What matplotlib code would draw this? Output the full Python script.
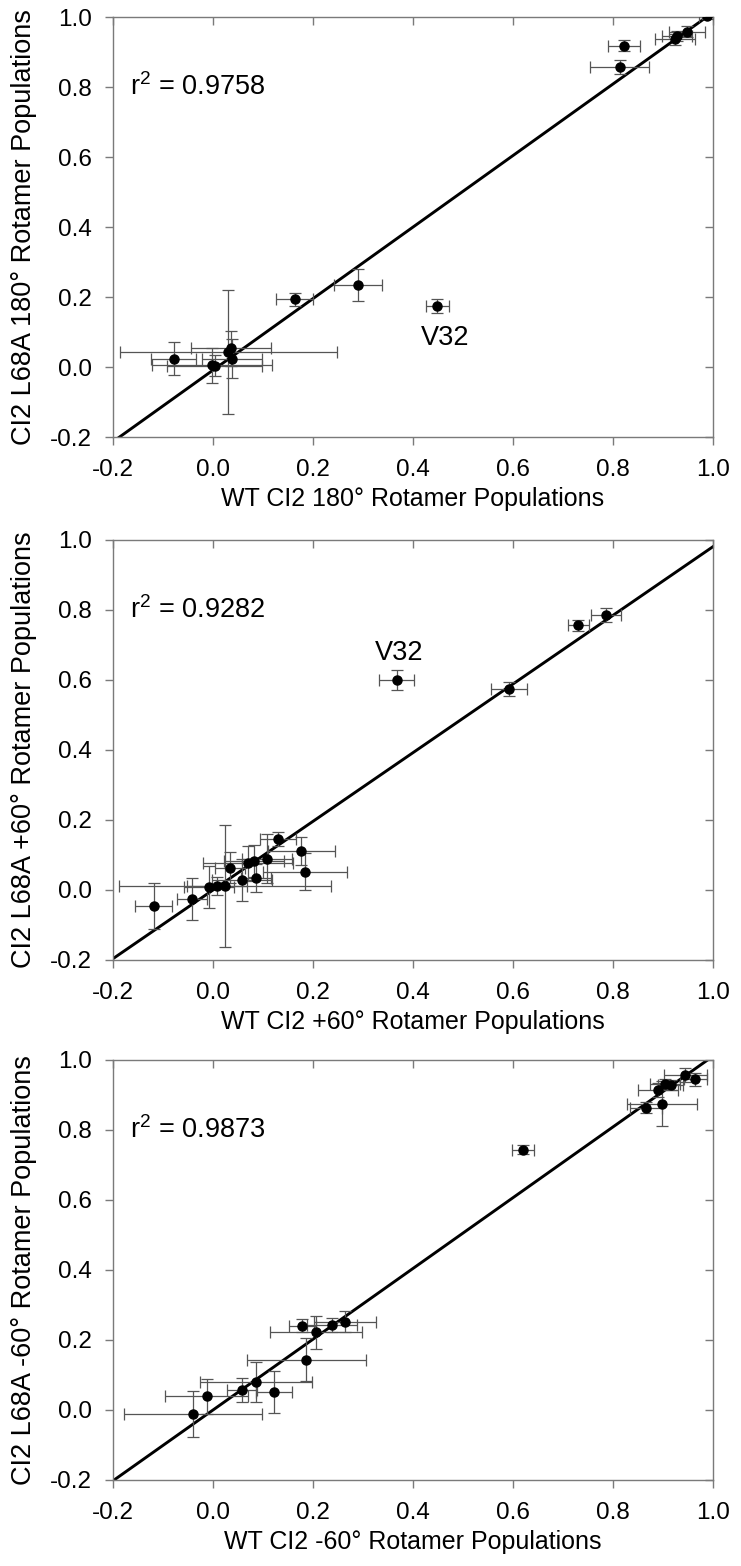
import matplotlib
matplotlib.use("Agg")
import matplotlib.pyplot as plt
import numpy as np

plt.rcParams['font.family'] = ['Liberation Sans', 'DejaVu Sans']
plt.rcParams['axes.unicode_minus'] = False

# ---------------- Panel 1: 180 deg rotamer ----------------
p1_x    = [-0.079, -0.002, 0.003, 0.030, 0.036, 0.038, 0.163, 0.290, 0.448, 0.813, 0.821, 0.923, 0.927, 0.947, 0.987]
p1_y    = [0.024, 0.005, 0.003, 0.043, 0.054, 0.024, 0.193, 0.234, 0.173, 0.858, 0.918, 0.936, 0.946, 0.958, 1.003]
p1_xerr = [0.045, 0.120, 0.095, 0.217, 0.080, 0.060, 0.037, 0.048, 0.023, 0.059, 0.032, 0.040, 0.030, 0.036, 0.015]
p1_yerr = [0.047, 0.050, 0.030, 0.176, 0.050, 0.055, 0.019, 0.045, 0.020, 0.020, 0.015, 0.015, 0.015, 0.015, 0.008]
p1_fit  = (1.022, -0.009)
p1_r2   = "0.9758"

# ---------------- Panel 2: +60 deg rotamer ----------------
p2_x    = [-0.119, -0.043, -0.008, 0.007, 0.023, 0.034, 0.057, 0.070, 0.081, 0.085, 0.107, 0.129, 0.176, 0.183, 0.367, 0.592, 0.730, 0.786]
p2_y    = [-0.045, -0.026, 0.010, 0.011, 0.012, 0.064, 0.030, 0.076, 0.083, 0.033, 0.089, 0.145, 0.111, 0.052, 0.600, 0.575, 0.756, 0.786]
p2_xerr = [0.037, 0.030, 0.050, 0.060, 0.212, 0.030, 0.060, 0.090, 0.060, 0.030, 0.050, 0.036, 0.067, 0.084, 0.035, 0.036, 0.021, 0.030]
p2_yerr = [0.065, 0.060, 0.060, 0.025, 0.175, 0.045, 0.060, 0.050, 0.045, 0.040, 0.070, 0.020, 0.040, 0.053, 0.028, 0.020, 0.015, 0.020]
p2_fit  = (0.981, 0.000)
p2_r2   = "0.9282"

# ---------------- Panel 3: -60 deg rotamer ----------------
p3_x    = [-0.040, -0.013, 0.057, 0.085, 0.122, 0.186, 0.178, 0.206, 0.237, 0.263, 0.620, 0.866, 0.889, 0.897, 0.903, 0.915, 0.944, 0.964]
p3_y    = [-0.011, 0.040, 0.057, 0.081, 0.052, 0.144, 0.241, 0.222, 0.243, 0.252, 0.744, 0.864, 0.915, 0.875, 0.931, 0.929, 0.956, 0.945]
p3_xerr = [0.138, 0.083, 0.030, 0.112, 0.036, 0.119, 0.027, 0.092, 0.050, 0.062, 0.022, 0.032, 0.040, 0.070, 0.030, 0.025, 0.043, 0.023]
p3_yerr = [0.066, 0.050, 0.035, 0.057, 0.060, 0.061, 0.019, 0.047, 0.020, 0.030, 0.012, 0.015, 0.020, 0.064, 0.015, 0.015, 0.020, 0.018]
p3_fit  = (1.011, 0.000)
p3_r2   = "0.9873"

xlabels = ["WT CI2 180° Rotamer Populations",
           "WT CI2 +60° Rotamer Populations",
           "WT CI2 -60° Rotamer Populations"]
ylabels = ["CI2 L68A 180° Rotamer Populations",
           "CI2 L68A +60° Rotamer Populations",
           "CI2 L68A -60° Rotamer Populations"]
ticks = [-0.2, 0.0, 0.2, 0.4, 0.6, 0.8, 1.0]

W, H = 741, 1566
fig = plt.figure(figsize=(W / 100, H / 100), dpi=100)

panels = [
    (p1_x, p1_y, p1_xerr, p1_yerr, p1_fit, p1_r2, (0.465, 0.083), 437),
    (p2_x, p2_y, p2_xerr, p2_yerr, p2_fit, p2_r2, (0.372, 0.677), 960),
    (p3_x, p3_y, p3_xerr, p3_yerr, p3_fit, p3_r2, None, 1480),
]

TICK_FS = 17.5
XLAB_FS = 18
YLAB_FS = 19.5
ANN_FS = 19.5
SPINE = '#7a7a7a'
for i, (x, y, xe, ye, fit, r2, v32, bottom_px) in enumerate(panels):
    ax = fig.add_axes([113 / W, (H - bottom_px) / H, 600 / W, 420 / H])
    ax.set_xlim(-0.2, 1.0)
    ax.set_ylim(-0.2, 1.0)
    for s in ax.spines.values():
        s.set_color(SPINE)
        s.set_linewidth(1.0)
    ax.set_xticks(ticks)
    ax.set_yticks(ticks)
    ax.set_xticklabels([f"{t:.1f}" for t in ticks])
    ax.set_yticklabels([f"{t:.1f}" for t in ticks])
    ax.tick_params(axis='both', direction='out', length=6, width=1.0,
                   color=SPINE, labelsize=TICK_FS)
    ax.tick_params(axis='x', pad=10)
    ax.tick_params(axis='y', pad=9)

    ax2 = ax.secondary_xaxis('top')
    ax2.set_xticks(ticks)
    ax2.set_xticklabels([])
    ax2.tick_params(direction='in', length=6, width=1.0, color=SPINE)
    ax2.spines['top'].set_visible(False)
    ay2 = ax.secondary_yaxis('right')
    ay2.set_yticks(ticks)
    ay2.set_yticklabels([])
    ay2.tick_params(direction='in', length=6, width=1.0, color=SPINE)
    ay2.spines['right'].set_visible(False)

    xs = np.array([-0.2, 1.0])
    ax.plot(xs, fit[0] * xs + fit[1], color='black', lw=2.1, zorder=2)
    ax.errorbar(x, y, xerr=xe, yerr=ye, fmt='none', ecolor='#555555',
                elinewidth=0.9, capsize=4, capthick=0.9, zorder=3)
    ax.plot(x, y, 'o', color='black', ms=6.5, zorder=4)

    ax.text(-0.167, 0.80, r"r$^{\mathregular{2}}$ = " + r2, fontsize=ANN_FS,
            ha='left', va='center')
    if v32 is not None:
        ax.text(v32[0], v32[1], "V32", fontsize=ANN_FS, ha='center', va='center')

    ax.set_xlabel(xlabels[i], fontsize=XLAB_FS, labelpad=4)
    ax.set_ylabel(ylabels[i], fontsize=YLAB_FS)
    ax.yaxis.set_label_coords(-76 / 600, 0.5)

fig.savefig("out.png", dpi=100)
